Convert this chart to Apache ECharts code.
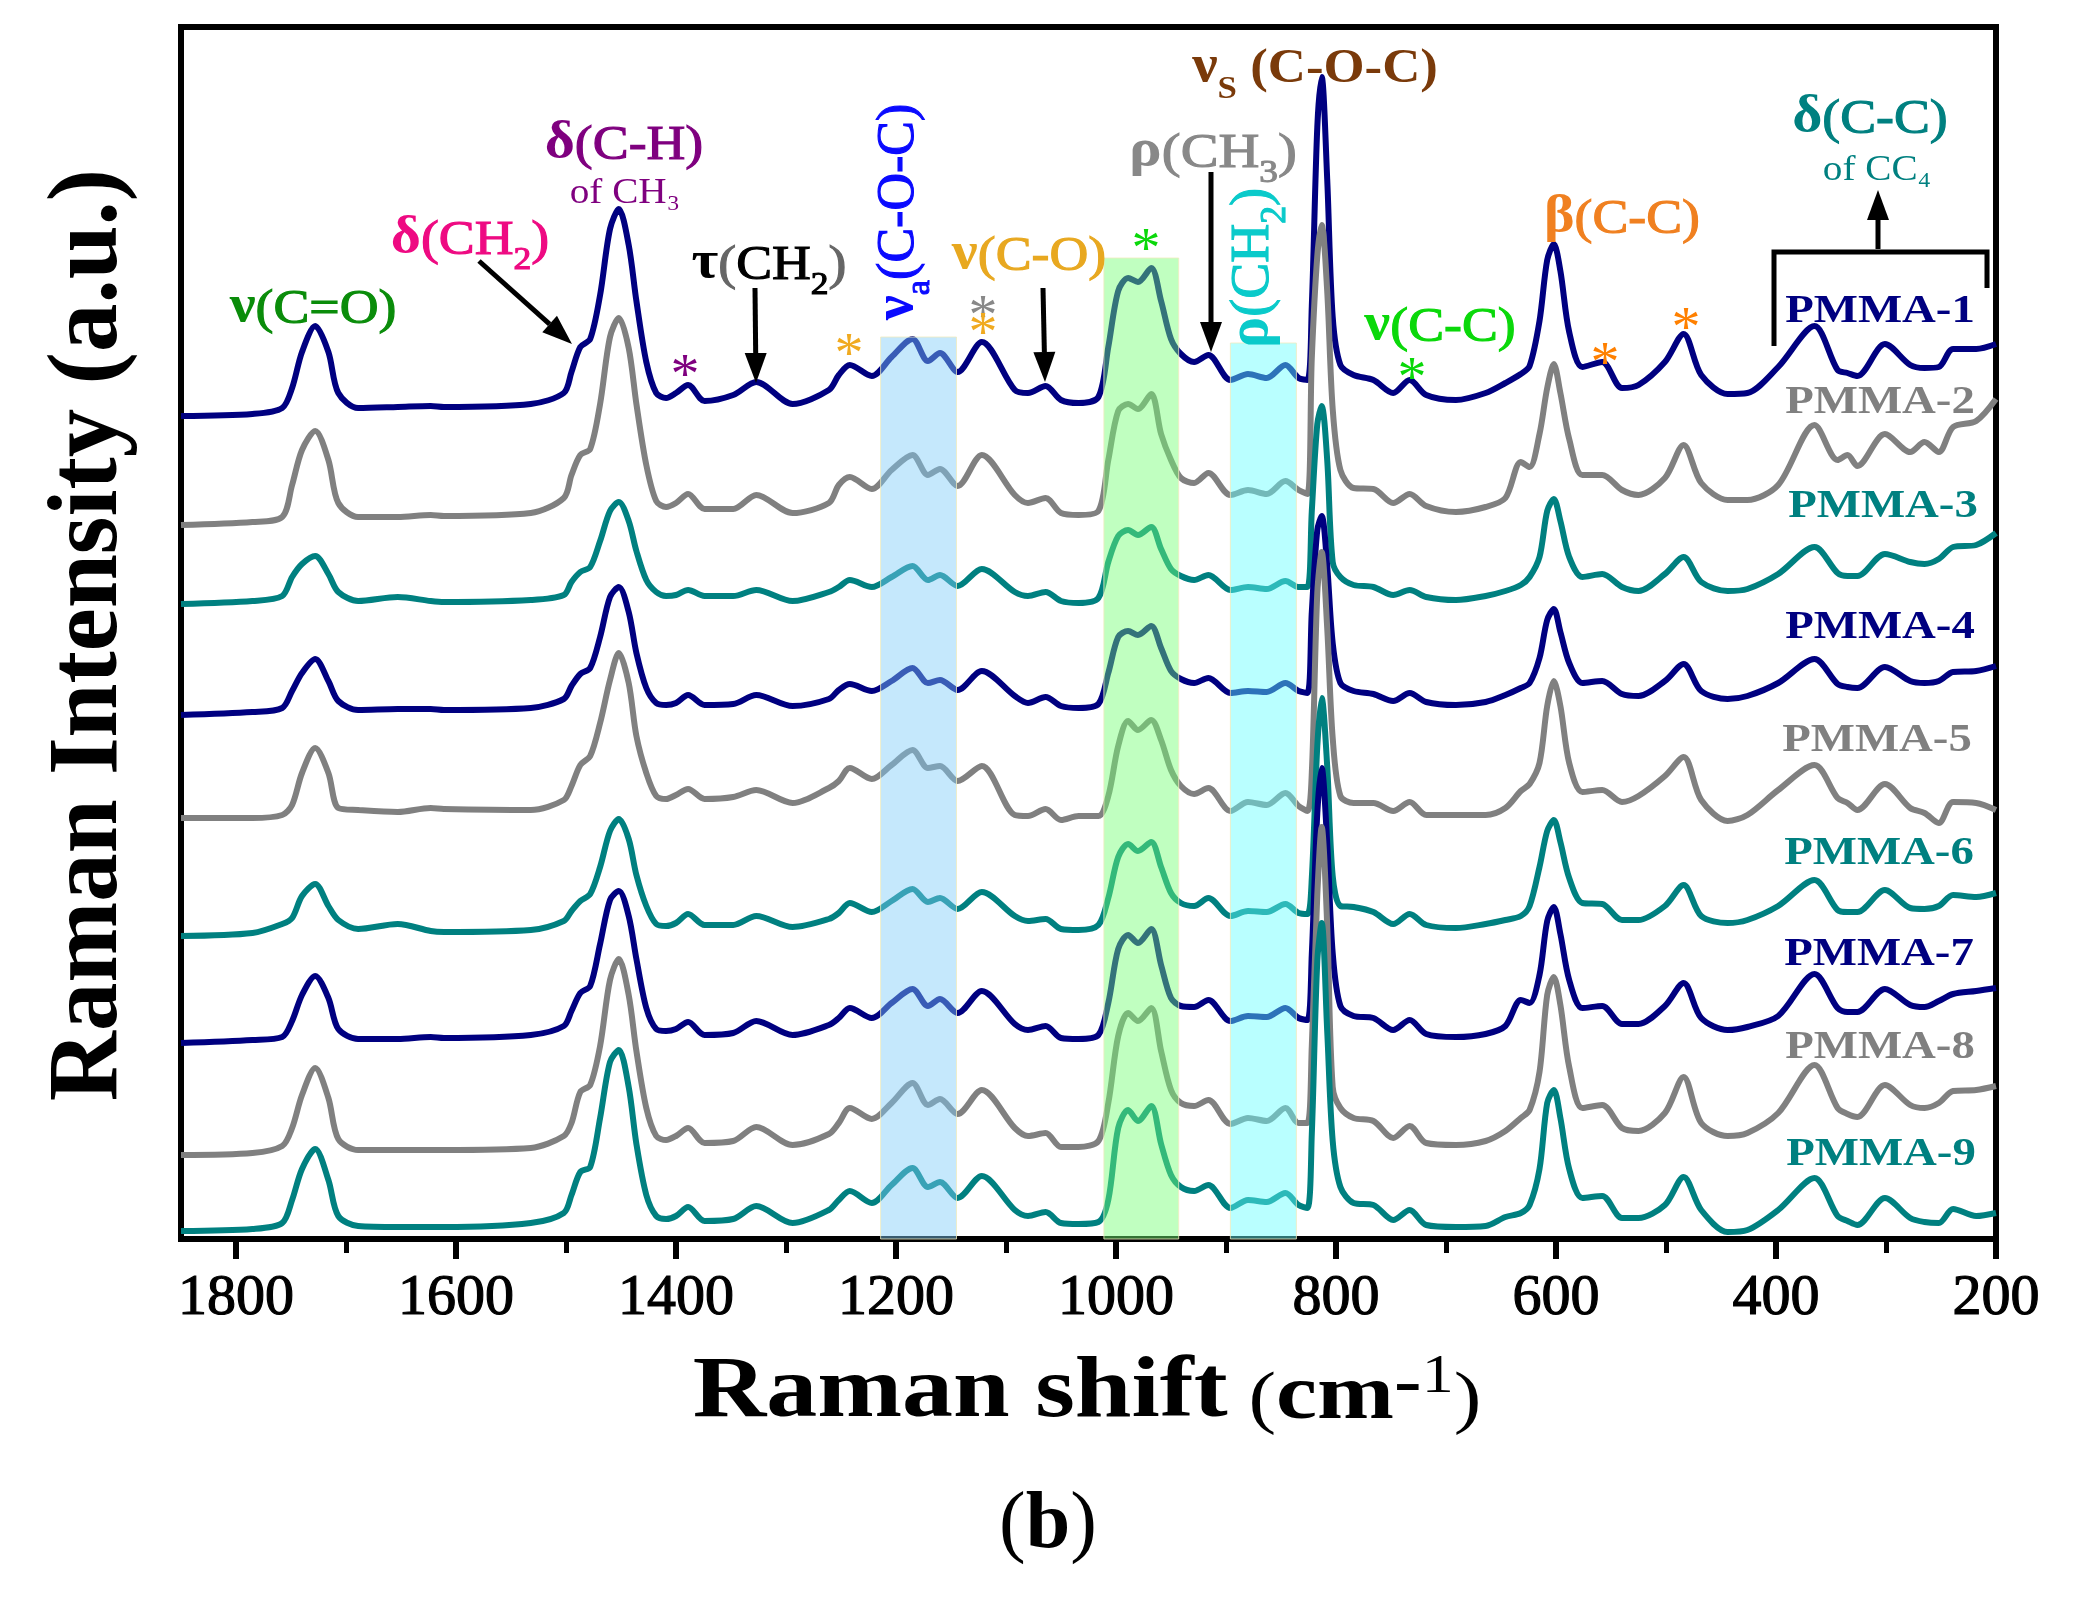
<!DOCTYPE html>
<html><head><meta charset="utf-8">
<style>html,body{margin:0;padding:0;background:#fff}#c{width:2075px;height:1605px}</style>
<script src="https://cdn.jsdelivr.net/npm/echarts@6/dist/echarts.min.js"></script>
</head><body><div id="c"></div>
<script>
const wavenumbers=[1850,1785,1758,1749,1740,1728,1716,1707,1689,1653,1623,1611,1532,
1502,1495,1487,1478,1469,1460,1452,1443,1436,1427,1418,1409,1400,
1389,1374,1348,1327,1294,1261,1252,1242,1222,1204,1185,1171,1160,1144,1122,1092,
1080,1064,1050,1034,1016,1007,998,989,980,968,959,950,941,929,916,896,880,
863,846,834,826,822,817,813,808,803,796,784,766,
748,733,718,691,664,646,632,624,615,
608,602,596,588,576,558,540,525,501,484,468,
444,426,398,365,344,335,326,301,278,265,252,239,218,200];
const seriesNames=['PMMA-1','PMMA-2','PMMA-3','PMMA-4','PMMA-5','PMMA-6','PMMA-7','PMMA-8','PMMA-9'];
const baselines=[823,714,635,524,421,303,196,84,8];
const pmma1=[0,2,8,28,64,90,64,23,8,9,10,9,12,
23,44,69,77,121,187,207,171,115,54,23,18,23,
31,15,21,34,12,26,41,51,40,59,77,55,63,44,74,26,
23,30,16,13,19,69,125,138,134,148,115,77,62,54,61,36,42,
38,51,38,36,110,289,339,237,99,51,41,36,
23,36,21,16,23,33,42,50,95,
156,172,145,84,49,54,28,31,54,82,41,
22,23,49,90,46,43,40,72,51,48,49,67,67,72];
const pmma2=[0,3,8,40,75,94,65,22,8,8,10,9,12,
27,50,70,76,121,188,207,177,121,60,24,18,22,
31,16,16,30,12,22,40,48,36,55,70,50,56,39,70,30,
22,27,12,10,14,65,114,121,116,131,91,65,47,42,52,30,35,
31,44,35,31,167,269,300,234,116,55,37,36,
22,31,19,13,18,27,63,58,91,
137,161,132,86,50,50,35,30,47,80,42,
25,25,40,100,65,70,59,91,73,83,73,98,104,126];
const pmma3=[0,3,8,27,40,48,30,12,3,7,3,2,4,
9,22,32,37,63,93,102,83,53,24,12,8,9,
14,8,8,14,3,12,17,24,17,27,38,24,29,18,35,12,
8,12,3,1,6,42,68,74,69,77,55,35,28,24,29,14,17,
15,23,17,17,93,180,198,144,42,27,19,17,
9,14,7,4,8,13,19,27,47,
93,105,83,47,27,30,17,13,30,47,22,
13,15,30,57,31,28,28,50,42,40,45,57,59,71];
const pmma4=[0,3,7,24,42,56,34,14,5,6,6,5,7,
16,29,41,47,78,118,128,103,62,27,12,10,12,
20,10,11,20,9,16,25,31,24,34,47,32,35,25,44,19,
12,18,9,7,11,42,78,84,80,89,67,44,36,32,37,22,24,
23,32,24,22,103,185,199,149,72,32,24,21,
14,22,13,10,13,20,27,32,57,
95,106,83,52,32,34,21,19,34,51,24,
16,19,32,56,31,28,27,48,34,32,34,43,44,49];
const pmma5=[0,0,3,13,45,70,45,10,8,6,10,9,8,
18,32,53,62,95,138,165,135,82,45,22,19,23,
29,19,21,28,15,30,37,50,39,53,68,50,52,37,52,3,
2,9,-2,2,2,22,72,97,88,98,78,48,32,24,30,7,16,
13,25,12,7,45,225,266,190,80,22,15,15,
7,16,3,3,3,10,27,34,55,
112,137,112,55,26,28,16,22,42,61,18,
-3,3,28,53,20,15,8,34,10,5,-5,16,15,8];
const pmma6=[0,3,12,18,40,52,30,16,7,12,5,4,6,
15,25,35,42,69,105,117,97,61,30,12,10,13,
22,11,11,20,9,17,23,33,24,35,47,34,38,27,44,20,
15,17,7,6,11,38,79,92,85,94,69,43,33,30,38,20,25,
24,32,23,22,58,190,238,170,60,30,29,24,
12,22,11,8,12,16,20,30,69,
105,116,94,58,33,32,16,16,30,51,20,
13,16,30,56,26,24,24,46,28,27,30,41,39,43];
const pmma7=[0,3,6,22,48,67,45,14,4,4,6,5,8,
17,32,50,57,99,143,152,127,84,35,14,12,14,
21,8,10,22,8,18,25,35,25,40,54,37,44,30,52,19,
13,17,5,4,8,40,94,108,100,114,78,45,37,36,43,22,27,
26,35,25,23,89,230,275,200,90,37,27,25,
13,23,9,6,9,17,43,40,68,
122,136,109,63,35,37,19,19,37,60,25,
13,16,27,69,35,31,31,54,38,36,42,49,52,55];
const pmma8=[0,2,9,27,60,87,57,16,5,5,5,5,7,
19,32,63,70,109,175,196,160,104,47,19,15,19,
27,12,14,28,10,21,32,47,36,52,72,50,56,41,65,27,
19,22,8,8,14,52,119,142,134,147,104,65,52,49,55,31,37,
34,47,32,32,109,260,328,230,68,47,37,34,
17,29,12,10,14,24,37,45,83,
160,178,150,88,47,50,27,24,42,78,32,
19,22,42,90,47,41,38,70,50,47,52,64,65,69];
const pmma9=[0,2,8,31,62,82,51,15,5,4,4,4,8,
18,36,59,64,113,169,181,144,87,36,15,12,15,
24,10,12,25,8,21,31,40,28,46,63,44,49,33,55,21,
15,19,8,7,9,31,103,121,110,125,87,56,44,40,46,23,31,
29,38,26,23,97,270,308,200,90,44,28,26,
11,21,6,4,5,14,18,26,62,
128,141,113,62,33,35,13,13,26,54,21,
-1,1,21,53,15,10,6,33,13,9,8,22,15,18];
const seriesValues=[pmma1,pmma2,pmma3,pmma4,pmma5,pmma6,pmma7,pmma8,pmma9];
const majorTicks=[1800,1600,1400,1200,1000,800,600,400,200];
const minorTicks=[1700,1500,1300,1100,900,700,500,300];
const bandFrom=[1214,1011,896];
const bandTo=[1145,943,836];
const bandTop=[902,981,896];

const NAVY='#000080',GRAY='#808080',TEAL='#008080';
const lineColors=[NAVY,GRAY,TEAL,NAVY,GRAY,TEAL,NAVY,GRAY,TEAL];
const bandColors=['rgba(127,204,249,0.45)','rgba(115,255,115,0.45)','rgba(100,255,255,0.45)'];
const F='"Liberation Serif",serif';

seriesValues.forEach((v,i)=>{if(v.length!==wavenumbers.length)throw new Error('len '+i+' '+v.length+' vs '+wavenumbers.length)});

function rich(color,size,opt){opt=opt||{};const drop=Math.round(size*0.24);
  const w=opt.weight||'normal';
  const st=w==='bold'?{}:{stroke:color,lineWidth:1.1};
  return {
    g:{fill:opt.gcolor||color,fontSize:size*1.08,fontFamily:F,fontWeight:'bold',verticalAlign:'bottom',padding:[0,0,drop,0]},
    m:Object.assign({fill:color,fontSize:size,fontFamily:F,fontWeight:w,verticalAlign:'bottom',padding:[0,0,drop,0]},st),
    p:{fill:opt.pcolor||color,stroke:opt.pcolor||color,lineWidth:1.1,fontSize:size,fontFamily:F,fontWeight:w,verticalAlign:'bottom',padding:[0,0,drop,0]},
    s:Object.assign({fill:color,fontSize:size*0.66,fontFamily:F,fontWeight:w,verticalAlign:'bottom',padding:[0,0,0,0]},st)
  };
}
function T(cx,cy,text,r,sx,rot){
  return {type:'text',z:100,x:cx,y:cy,scaleX:sx||1.12,rotation:rot||0,silent:true,
    style:{text:text,rich:r,align:'center',verticalAlign:'middle'}};
}
function P(cx,cy,text,color,size,weight,sx){
  return {type:'text',z:100,x:cx,y:cy,scaleX:sx||1,silent:true,
    style:{text:text,fill:color,fontSize:size,fontFamily:F,fontWeight:weight||'normal',align:'center',verticalAlign:'middle'}};
}
function star(cx,cy,color){
  return {type:'text',z:100,x:cx,y:cy+11,silent:true,
    style:{text:'*',fill:color,fontSize:58,fontFamily:F,align:'center',verticalAlign:'middle'}};
}
function arrow(x1,y1,x2,y2){
  const a=Math.atan2(y2-y1,x2-x1),L=30,W=11;
  const bx=x2-L*Math.cos(a),by=y2-L*Math.sin(a),nx=-Math.sin(a),ny=Math.cos(a);
  return [{type:'line',z:100,silent:true,shape:{x1:x1,y1:y1,x2:bx,y2:by},style:{stroke:'#000',lineWidth:5}},
    {type:'polygon',z:100,silent:true,shape:{points:[[x2,y2],[bx+W*nx,by+W*ny],[bx-W*nx,by-W*ny]]},style:{fill:'#000'}}];
}
const g=[];
const S=48;
g.push(T(313,314,'{g|ν}{m|(C=O)}',rich('#0a8c0a',S)));
g.push(T(470,245,'{g|δ}{m|(CH}{s|2}{m|)}',rich('#ee0a82',S)));
g.push(T(624,150,'{g|δ}{m|(C-H)}',rich('#7f007f',S)));
g.push(P(625,194,'of CH₃','#7f007f',35,'normal',1.12));
g.push(T(769,270,'{g|τ}{p|(}{m|CH}{s|2}{p|)}',rich('#000',S,{pcolor:'#666'})));
g.push(T(903,212,'{g|ν}{s|a}{m|(C-O-C)}',rich('#0a0aff',52),1,Math.PI/2));
g.push(T(1029,261,'{g|ν}{m|(C-O)}',rich('#e8a820',S)));
g.push(T(1315,74,'{g|ν}{s|S}{m| (C-O-C)}',rich('#7a3a0a',S,{weight:'bold'}),1.1));
g.push(T(1213,158,'{g|ρ}{m|(CH}{s|3}{m|)}',rich('#888888',S),1.18));
g.push(T(1258,268,'{g|ρ}{m|(CH}{s|2}{m|)}',rich('#0acaca',54),1,Math.PI/2));
g.push(T(1622,224,'{g|β}{m|(C-C)}',rich('#f08020',S)));
g.push(T(1440,332,'{g|ν}{m|(C-C)}',rich('#0ad80a',S)));
g.push(T(1870,124,'{g|δ}{m|(C-C)}',rich(TEAL,S)));
g.push(P(1877,171,'of CC₄',TEAL,35,'normal',1.12));
[[685,367,'#7f007f'],[849,346,'#f0aa20'],[983,308,'#888888'],[983,325,'#f0aa20'],[1146,241,'#0ad80a'],[1412,370,'#0ad80a'],[1605,355,'#ff8000'],[1686,320,'#ff8000']]
  .forEach(a=>g.push(star(a[0],a[1],a[2])));
[[1880,312],[1880,403],[1883,507],[1880,628],[1877,741],[1879,854],[1879,955],[1880,1048],[1881,1155]]
  .forEach((p,i)=>g.push(P(p[0],p[1],seriesNames[i],lineColors[i],40,'bold',1.17)));
[[479,261,572,344],[755,288,756,383],[1043,288,1045,382],[1211,172,1211,352],[1878,249,1878,190]]
  .forEach(a=>arrow(a[0],a[1],a[2],a[3]).forEach(e=>g.push(e)));
g.push({type:'polyline',z:100,silent:true,shape:{points:[[1774,346],[1774,252],[1987,252],[1987,288]]},style:{stroke:'#000',lineWidth:5,fill:null}});
// axis titles
const tb={fill:'#000',fontFamily:F,fontWeight:'bold',fontSize:86,verticalAlign:'bottom'};
g.push({type:'text',z:100,x:1087,y:1394,scaleX:1.185,silent:true,style:{
  text:'{b|Raman shift}{n| (}{c|cm}{d|-}{u|1}{n|)}',align:'center',verticalAlign:'middle',
  rich:{b:tb,n:{fill:'#000',fontFamily:F,fontSize:70,verticalAlign:'bottom'},c:{fill:'#000',fontFamily:F,fontWeight:'bold',fontSize:78,verticalAlign:'bottom'},
    d:{fill:'#000',fontFamily:F,fontWeight:'bold',fontSize:70,verticalAlign:'top'},u:{fill:'#000',fontFamily:F,fontSize:54,verticalAlign:'top'}}}});
g.push({type:'text',z:100,x:90,y:635,rotation:Math.PI/2,scaleX:0.97,silent:true,style:{
  text:'Raman Intensity (a.u.)',fill:'#000',fontFamily:F,fontWeight:'bold',fontSize:100,align:'center',verticalAlign:'middle'}});
g.push({type:'text',z:100,x:1048,y:1526,silent:true,style:{
  text:'{n|(}{b|b}{n|)}',align:'center',verticalAlign:'middle',
  rich:{n:{fill:'#000',fontFamily:F,fontSize:80},b:{fill:'#000',fontFamily:F,fontWeight:'bold',fontSize:80}}}});

const series=seriesValues.map((vals,i)=>({
  name:seriesNames[i],type:'line',showSymbol:false,symbol:'none',smooth:0.3,z:3+i,clip:true,silent:true,
  lineStyle:{color:lineColors[i],width:6,join:'round'},
  data:wavenumbers.map((w,j)=>[w,baselines[i]+vals[j]])
}));
series.push({name:'bands',type:'line',data:[],silent:true,z:20,
  markArea:{silent:true,z:20,data:bandFrom.map((b,i)=>[
    {xAxis:b,yAxis:0,itemStyle:{color:bandColors[i],borderColor:'rgba(240,235,190,0.8)',borderWidth:1}},
    {xAxis:bandTo[i],yAxis:bandTop[i]}])}});

const chart=echarts.init(document.getElementById('c'),null,{renderer:'canvas'});
chart.setOption({
  animation:false,backgroundColor:'#fff',
  grid:{left:181,right:79,top:27,bottom:366,show:true,borderColor:'#000',borderWidth:6,backgroundColor:'transparent'},
  xAxis:[{type:'value',inverse:true,min:200,max:1850,interval:200,position:'bottom',
      axisLine:{show:false},splitLine:{show:false},
      axisTick:{show:true,length:20,inside:false,customValues:majorTicks,lineStyle:{color:'#000',width:6}},
      axisLabel:{customValues:majorTicks,color:'#000',fontFamily:F,fontSize:58,margin:31,
        formatter:v=>String(v),textBorderColor:'#000',textBorderWidth:1.2}},
    {type:'value',inverse:true,min:200,max:1850,position:'bottom',
      axisLine:{show:false},splitLine:{show:false},
      axisTick:{show:true,length:14,customValues:minorTicks,lineStyle:{color:'#000',width:5}},
      axisLabel:{show:false}}],
  yAxis:{type:'value',min:0,max:1212,show:false},
  series:series,
  graphic:{elements:g}
});
</script></body></html>
